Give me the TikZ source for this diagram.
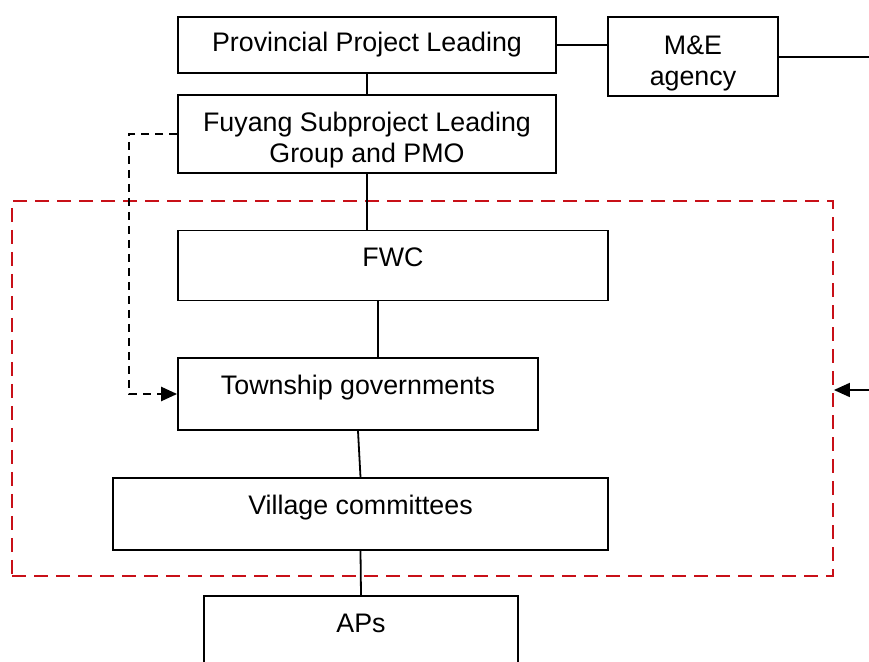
\documentclass[tikz,border=0pt]{standalone}
\usepackage{fontspec}
\setmainfont{Liberation Sans}
\usepackage{tikz}
\usetikzlibrary{positioning,calc,arrows.meta}
\definecolor{ZoneRed}{RGB}{200, 16, 24}
\definecolor{BoxBlack}{RGB}{0, 0, 0}

\begin{document}
\begin{tikzpicture}[x=0.5pt, y=-0.5pt,
    font=\fontsize{13.4}{15.4}\selectfont,
    box/.style={draw=BoxBlack, line width=0.9pt, inner sep=2pt, align=center},
    boxtwo/.style={box, text height=31.5pt},
    boxhigh/.style={box, text height=10pt, text depth=9.5pt},
    link/.style={draw=BoxBlack, line width=0.9pt},
    dashlink/.style={draw=BoxBlack, line width=1.2pt, dash pattern=on 4pt off 3pt},
    zone/.style={draw=ZoneRed, line width=0.9pt, dash pattern=on 7pt off 4pt},
    tip/.style={-{Triangle[length=8pt, width=7pt]}}]
      \useasboundingbox (0,0) rectangle (869,662);
      \clip (0,0) rectangle (869,662);
      % top level
      \node[box, minimum width=189pt, minimum height=28pt] (prov) at (367,45) {Provincial Project Leading};
      \node[boxtwo, minimum width=85pt, minimum height=39.5pt] (me) at (693,56.5) {M\&E\\agency};
      \node[boxtwo, minimum width=189pt, minimum height=39pt] (fuyang) at (367,134) {Fuyang Subproject Leading\\Group and PMO};
      % inside the red frame
      \node[zone, minimum width=410.5pt, minimum height=187.5pt] (area) at (422.5,388.5) {};
      \node[boxhigh, text depth=8.5pt, minimum width=215pt, minimum height=35pt] (fwc) at (393,265.5) {FWC};
      \node[boxhigh, minimum width=180pt, minimum height=36pt] (town) at (358,394) {Township governments};
      \node[boxhigh, minimum width=247.5pt, minimum height=36pt] (village) at (360.5,514) {Village committees};
      \node[boxhigh, minimum width=157pt, minimum height=36pt] (aps) at (361,632) {APs};
      % loose ends at the right edge
      \coordinate (meout) at (869,57);
      \coordinate (areain) at (869,390);
      % connectors
      \draw[link] (prov.east) -- (prov.east -| me.west);
      \draw[link] (me.east |- meout) -- (meout);
      \draw[link] (prov.south) -- (fuyang.north);
      \draw[link] (fuyang.south) -- (fuyang.south |- fwc.north);
      \draw[link] ([xshift=10pt]town.north) -- ([xshift=10pt]town.north |- fwc.south);
      \draw[link] (town.south) -- (village.north);
      \draw[link] (village.south) -- (aps.north);
      \draw[dashlink, tip] (fuyang.west) -- ++(-48,0) |- (town.west);
      \draw[link, tip] (areain) -- (areain -| area.east);
    \end{tikzpicture}
\end{document}
